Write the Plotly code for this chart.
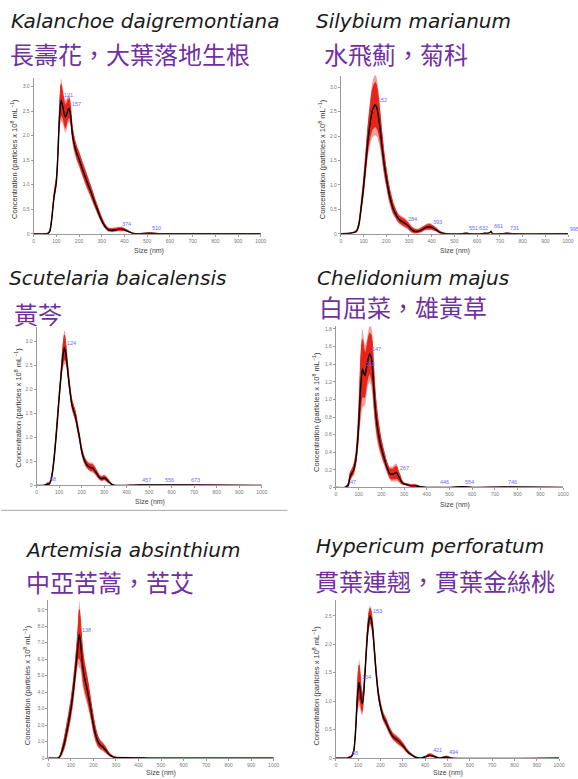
import numpy as np
import plotly.graph_objects as go

W, H = 578, 779

# ---------------- data ----------------
latin_names = ["Kalanchoe daigremontiana", "Silybium marianum", "Scutelaria baicalensis",
               "Chelidonium majus", "Artemisia absinthium", "Hypericum perforatum"]
chinese_names = ["長壽花，大葉落地生根", "水飛薊，菊科", "黃芩",
                 "白屈菜，雄黃草", "中亞苦蒿，苦艾", "貫葉連翹，貫葉金絲桃"]

x_tick_vals = [0, 100, 200, 300, 400, 500, 600, 700, 800, 900, 1000]
x_tick_text = ["0", "100", "200", "300", "400", "500", "600", "700", "800", "900", "1000"]

# Panel 1: Kalanchoe daigremontiana
x1 = [0, 50, 65, 72, 80, 90, 100, 105, 110, 115, 121, 128, 135, 140, 147, 152, 157, 163, 170, 180,
      190, 200, 210, 220, 230, 240, 250, 260, 270, 280, 290, 300, 310, 320, 330, 345, 360, 374, 390, 405,
      420, 435, 460, 510, 560, 1000]
y1 = [0, 0, 0.01, 0.06, 0.3, 0.75, 1.05, 1.4, 1.95, 2.45, 2.72, 2.6, 2.44, 2.38, 2.45, 2.53, 2.55, 2.4, 2.05, 1.8,
      1.64, 1.52, 1.38, 1.25, 1.12, 1.0, 0.88, 0.75, 0.62, 0.5, 0.38, 0.27, 0.18, 0.12, 0.08, 0.07, 0.08, 0.09, 0.09, 0.07,
      0.04, 0.01, 0.0, 0.01, 0, 0]
e1 = [0, 0, 0.01, 0.02, 0.05, 0.07, 0.09, 0.11, 0.13, 0.2, 0.32, 0.26, 0.24, 0.24, 0.22, 0.2, 0.2, 0.16, 0.13, 0.12,
      0.12, 0.12, 0.12, 0.12, 0.12, 0.11, 0.1, 0.09, 0.08, 0.07, 0.06, 0.05, 0.04, 0.03, 0.03, 0.03, 0.03, 0.03, 0.03, 0.02,
      0.01, 0.005, 0, 0.005, 0, 0]
pk1_x = [121, 157, 374, 510]
pk1_y = [2.72, 2.55, 0.09, 0.01]
pk1_t = ["121", "157", "374", "510"]

# Panel 2: Silybium marianum
x2 = [0, 40, 60, 70, 80, 90, 100, 110, 120, 130, 140, 152, 160, 170, 180, 190, 200, 210, 220, 230,
      240, 250, 260, 270, 284, 295, 310, 325, 340, 355, 370, 385, 393, 405, 420, 435, 450, 470, 530, 551,
      570, 620, 632, 645, 655, 661, 667, 700, 731, 760, 990, 1000]
y2 = [0, 0.01, 0.03, 0.06, 0.2, 0.55, 0.95, 1.45, 1.95, 2.3, 2.55, 2.64, 2.55, 2.25, 1.85, 1.45, 1.15, 0.88, 0.68, 0.52,
      0.42, 0.33, 0.28, 0.25, 0.21, 0.17, 0.09, 0.05, 0.05, 0.08, 0.12, 0.14, 0.14, 0.12, 0.08, 0.03, 0.01, 0, 0, 0.01,
      0, 0, 0.01, 0.01, 0.02, 0.05, 0.0, 0, 0.01, 0, 0, 0]
e2 = [0, 0, 0.01, 0.02, 0.05, 0.1, 0.15, 0.2, 0.26, 0.34, 0.42, 0.46, 0.42, 0.32, 0.24, 0.2, 0.16, 0.14, 0.12, 0.1,
      0.08, 0.07, 0.07, 0.07, 0.07, 0.06, 0.05, 0.04, 0.03, 0.04, 0.04, 0.05, 0.05, 0.04, 0.03, 0.02, 0.01, 0, 0, 0,
      0, 0, 0, 0, 0, 0.01, 0, 0, 0, 0, 0, 0]
pk2_x = [152, 284, 393, 551, 632, 661, 731, 995]
pk2_y = [2.64, 0.21, 0.14, 0.01, 0.01, 0.05, 0.01, 0.0]
pk2_t = ["152", "284", "393", "551", "632", "661", "731", "995"]

# Panel 3: Scutelaria baicalensis
x3 = [0, 30, 40, 48, 55, 62, 70, 80, 90, 100, 110, 117, 124, 130, 138, 146, 156, 165, 172, 180,
      190, 200, 210, 220, 230, 240, 250, 260, 270, 280, 290, 300, 310, 320, 330, 340, 350, 457, 556, 673,
      1000]
y3 = [0, 0, 0.01, 0.03, 0.03, 0.08, 0.25, 0.65, 1.2, 1.8, 2.35, 2.7, 2.87, 2.75, 2.4, 2.05, 1.7, 1.55, 1.45, 1.25,
      1.0, 0.72, 0.55, 0.45, 0.4, 0.37, 0.36, 0.3, 0.23, 0.16, 0.14, 0.16, 0.13, 0.08, 0.04, 0.01, 0, 0.01, 0.01, 0.01,
      0]
e3 = [0, 0, 0.01, 0.02, 0.02, 0.03, 0.05, 0.08, 0.1, 0.1, 0.12, 0.2, 0.26, 0.18, 0.12, 0.1, 0.09, 0.09, 0.09, 0.08,
      0.07, 0.07, 0.06, 0.06, 0.06, 0.07, 0.07, 0.06, 0.05, 0.04, 0.04, 0.04, 0.04, 0.03, 0.01, 0.005, 0, 0, 0, 0,
      0]
pk3_x = [48, 124, 457, 556, 673]
pk3_y = [0.03, 2.87, 0.01, 0.01, 0.01]
pk3_t = ["48", "124", "457", "556", "673"]

# Panel 4: Chelidonium majus
x4 = [0, 40, 47, 55, 62, 70, 78, 87, 95, 100, 105, 110, 117, 123, 128, 135, 142, 149, 155, 160,
      165, 171, 178, 186, 193, 200, 207, 214, 222, 229, 236, 243, 250, 258, 267, 275, 282, 290, 300, 315,
      330, 350, 370, 400, 446, 500, 554, 600, 746, 1000]
y4 = [0, 0, 0.01, 0.03, 0.12, 0.16, 0.2, 0.3, 0.5, 0.7, 0.95, 1.18, 1.35, 1.3, 1.27, 1.36, 1.46, 1.52, 1.48, 1.4,
      1.2, 0.97, 0.78, 0.63, 0.53, 0.45, 0.38, 0.32, 0.25, 0.2, 0.16, 0.15, 0.15, 0.16, 0.17, 0.13, 0.1, 0.06, 0.04, 0.03,
      0.02, 0.02, 0.01, 0, 0, 0, 0.01, 0, 0.005, 0]
e4 = [0, 0, 0.01, 0.02, 0.04, 0.04, 0.05, 0.06, 0.1, 0.15, 0.22, 0.3, 0.33, 0.28, 0.25, 0.22, 0.22, 0.23, 0.25, 0.25,
      0.22, 0.18, 0.15, 0.12, 0.1, 0.08, 0.07, 0.06, 0.05, 0.05, 0.05, 0.06, 0.06, 0.07, 0.07, 0.05, 0.04, 0.02, 0.01, 0.01,
      0.01, 0.01, 0, 0, 0, 0, 0, 0, 0, 0]
pk4_x = [47, 118, 147, 267, 446, 554, 746]
pk4_y = [0.01, 1.35, 1.52, 0.17, 0.0, 0.01, 0.005]
pk4_t = ["47", "118", "147", "267", "446", "554", "746"]

# Panel 5: Artemisia absinthium
x5 = [0, 40, 48, 55, 62, 70, 80, 90, 100, 110, 120, 128, 133, 137, 141, 146, 152, 160, 170, 180,
      190, 200, 210, 220, 230, 240, 250, 260, 270, 280, 290, 300, 350, 400, 440, 1000]
y5 = [0, 0, 0.05, 0.2, 0.5, 0.85, 1.5, 2.2, 3.0, 4.0, 5.3, 6.4, 7.1, 7.5, 7.2, 6.5, 5.6, 4.9, 4.3, 3.6,
      2.8, 2.0, 1.4, 1.0, 0.8, 0.7, 0.55, 0.38, 0.22, 0.12, 0.06, 0.03, 0.02, 0.01, 0, 0]
e5 = [0, 0, 0.03, 0.1, 0.2, 0.3, 0.4, 0.45, 0.5, 0.55, 0.6, 0.75, 1.05, 1.5, 1.3, 1.05, 0.9, 0.8, 0.7, 0.6,
      0.5, 0.45, 0.35, 0.28, 0.22, 0.2, 0.17, 0.12, 0.08, 0.05, 0.03, 0.02, 0.01, 0.005, 0, 0]
pk5_x = [138]
pk5_y = [7.5]
pk5_t = ["138"]

# Panel 6: Hypericum perforatum
x6 = [0, 50, 58, 70, 80, 88, 94, 99, 104, 109, 114, 119, 124, 130, 136, 142, 148, 153, 158, 165,
      172, 180, 190, 200, 212, 225, 240, 255, 270, 285, 300, 315, 330, 345, 360, 380, 400, 412, 421, 432,
      445, 465, 494, 520, 1000]
y6 = [0, 0, 0.01, 0.03, 0.12, 0.45, 0.9, 1.2, 1.33, 1.2, 1.02, 0.96, 1.1, 1.45, 1.85, 2.2, 2.42, 2.5, 2.45, 2.25,
      1.9, 1.5, 1.12, 0.9, 0.72, 0.62, 0.48, 0.38, 0.33, 0.28, 0.22, 0.14, 0.08, 0.04, 0.01, 0.0, 0.02, 0.04, 0.05, 0.04,
      0.02, 0.0, 0.02, 0, 0]
e6 = [0, 0, 0.005, 0.01, 0.03, 0.08, 0.15, 0.25, 0.3, 0.25, 0.18, 0.15, 0.12, 0.1, 0.1, 0.12, 0.13, 0.13, 0.12, 0.1,
      0.09, 0.08, 0.07, 0.06, 0.06, 0.06, 0.05, 0.05, 0.05, 0.05, 0.04, 0.03, 0.02, 0.01, 0.005, 0, 0.01, 0.02, 0.02, 0.02,
      0.01, 0, 0.01, 0, 0]
pk6_x = [58, 104, 153, 421, 494]
pk6_y = [0.01, 1.33, 2.5, 0.05, 0.02]
pk6_t = ["58", "104", "153", "421", "494"]

y_ticks_a = [0, 0.5, 1.0, 1.5, 2.0, 2.5, 3.0]
y_text_a = ["0", "0.5", "1.0", "1.5", "2.0", "2.5", "3.0"]
y_ticks_b = [0, 0.2, 0.4, 0.6, 0.8, 1.0, 1.2, 1.4, 1.6, 1.8]
y_text_b = ["0", "0.2", "0.4", "0.6", "0.8", "1.0", "1.2", "1.4", "1.6", "1.8"]
y_ticks_c = [0, 1, 2, 3, 4, 5, 6, 7, 8, 9]
y_text_c = ["0", "1.0", "2.0", "3.0", "4.0", "5.0", "6.0", "7.0", "8.0", "9.0"]
y_ticks_d = [0, 0.5, 1.0, 1.5, 2.0, 2.5]
y_text_d = ["0", "0.5", "1.0", "1.5", "2.0", "2.5"]

y_title = "Concentration (particles x 10<sup>8</sup> mL<sup>−1</sup>)"
x_title = "Size (nm)"

# ---------------- layout (pixel geometry) ----------------
def fx(p):
    return p / W

def fy(p):
    return 1 - p / H

panels = [
    dict(x=x1, y=y1, e=e1, px=pk1_x, py=pk1_y, pt=pk1_t, yt=y_ticks_a, ytt=y_text_a,
         box=(33, 263, 77, 234), ymax=3.18, lat=(8, 20), chi=(7, 53), ytl=(13, 159), xtl=(150, 251)),
    dict(x=x2, y=y2, e=e2, px=pk2_x, py=pk2_y, pt=pk2_t, yt=y_ticks_a, ytt=y_text_a,
         box=(344, 574, 75, 234), ymax=3.24, lat=(317, 20), chi=(325, 53), ytl=(325, 159), xtl=(460, 251)),
    dict(x=x3, y=y3, e=e3, px=pk3_x, py=pk3_y, pt=pk3_t, yt=y_ticks_a, ytt=y_text_a,
         box=(36, 264, 328, 487), ymax=3.29, lat=(6, 278), chi=(11, 314), ytl=(17, 409), xtl=(151, 504)),
    dict(x=x4, y=y4, e=e4, px=pk4_x, py=pk4_y, pt=pk4_t, yt=y_ticks_b, ytt=y_text_b,
         box=(339, 569, 327, 489), ymax=1.83, lat=(318, 278), chi=(320, 307), ytl=(319, 413), xtl=(460, 507)),
    dict(x=x5, y=y5, e=e5, px=pk5_x, py=pk5_y, pt=pk5_t, yt=y_ticks_c, ytt=y_text_c,
         box=(48, 276, 602, 761), ymax=9.6, lat=(22, 552), chi=(23, 583), ytl=(27, 688), xtl=(162, 776)),
    dict(x=x6, y=y6, e=e6, px=pk6_x, py=pk6_y, pt=pk6_t, yt=y_ticks_d, ytt=y_text_d,
         box=(339, 565, 602, 761), ymax=2.78, lat=(317, 548), chi=(316, 582), ytl=(319, 688), xtl=(452, 776)),
]

RED = "rgb(232,36,26)"
RED_SOFT = "rgba(232,36,26,0.45)"
fig = go.Figure()
layout = dict(width=W, height=H, autosize=False, margin=dict(l=0, r=0, t=0, b=0),
              paper_bgcolor="white", plot_bgcolor="white", showlegend=False)
annotations = []
axis_font = dict(size=5, color="#777", family="Liberation Sans")

for i, p in enumerate(panels):
    s = "" if i == 0 else str(i + 1)
    xs = np.array(p["x"], float)
    ys = np.array(p["y"], float)
    es = np.array(p["e"], float)
    assert len(xs) == len(ys) == len(es), (i, len(xs), len(ys), len(es))
    # soft halo (blurred edge of the error band)
    for lo, up, col, lw in [(np.clip(ys - es * 1.35, 0, None), ys + es * 1.35 + 0.004 * p["ymax"], RED_SOFT, 1.5),
                            (np.clip(ys - es, 0, None), ys + es, RED, 1.0)]:
        fig.add_trace(go.Scatter(x=xs, y=lo, mode="lines", xaxis="x" + s, yaxis="y" + s,
                                 line=dict(width=0, color=col, shape="spline", smoothing=0.6),
                                 hoverinfo="skip"))
        fig.add_trace(go.Scatter(x=xs, y=up, mode="lines", xaxis="x" + s, yaxis="y" + s,
                                 fill="tonexty", fillcolor=col,
                                 line=dict(width=lw if col == RED else 0, color=col, shape="spline", smoothing=0.6),
                                 hoverinfo="skip"))
    fig.add_trace(go.Scatter(x=xs, y=ys, mode="lines", xaxis="x" + s, yaxis="y" + s,
                             line=dict(width=1.4, color="black", shape="spline", smoothing=0.6)))
    x0, x1_, yt, yb = p["box"]
    px_per_unit = (yb - yt) / p["ymax"]
    layout["xaxis" + s] = dict(domain=[fx(x0), fx(x1_)], anchor="y" + s, range=[0, 1000],
                               tickvals=x_tick_vals, ticktext=x_tick_text, showgrid=False, zeroline=False,
                               showline=True, linecolor="#9a9a9a", linewidth=1, ticks="outside",
                               ticklen=2, tickcolor="#9a9a9a", tickfont=axis_font)
    layout["yaxis" + s] = dict(domain=[fy(yb), fy(yt)], anchor="x" + s, range=[0, p["ymax"]],
                               tickvals=p["yt"], ticktext=p["ytt"], showgrid=False, zeroline=False,
                               showline=True, linecolor="#9a9a9a", linewidth=1, ticks="outside",
                               ticklen=2, tickcolor="#9a9a9a", tickfont=axis_font)
    # peak labels; a label that would run into the next one is centred on its peak
    n = len(p["px"])
    for k in range(n):
        vx, vy, t = p["px"][k], p["py"][k], p["pt"][k]
        crowded = (k + 1 < n and (p["px"][k + 1] - vx) < 42
                   and abs(p["py"][k + 1] - vy) * px_per_unit < 7)
        annotations.append(dict(x=vx, y=vy, xref="x" + s, yref="y" + s, text=t, showarrow=False,
                                xanchor="center" if crowded else "left", yanchor="bottom",
                                xshift=-1 if crowded else 1,
                                font=dict(size=5.5, color="#6b6bff", family="Liberation Sans")))
    # titles
    annotations.append(dict(x=fx(p["lat"][0]), y=fy(p["lat"][1]), xref="paper", yref="paper",
                            text="<i>" + latin_names[i] + "</i>", showarrow=False,
                            xanchor="left", yanchor="middle",
                            font=dict(size=20, color="#1a1a1a", family="DejaVu Sans")))
    annotations.append(dict(x=fx(p["chi"][0]), y=fy(p["chi"][1]), xref="paper", yref="paper",
                            text=chinese_names[i], showarrow=False,
                            xanchor="left", yanchor="middle",
                            font=dict(size=24, color="#7030a0", family="Noto Sans CJK TC")))
    annotations.append(dict(x=fx(p["ytl"][0]), y=fy(p["ytl"][1]), xref="paper", yref="paper",
                            text=y_title, showarrow=False, textangle=-90,
                            xanchor="center", yanchor="middle",
                            font=dict(size=7.5, color="#333", family="Liberation Sans")))
    annotations.append(dict(x=fx(p["xtl"][0]), y=fy(p["xtl"][1]), xref="paper", yref="paper",
                            text=x_title, showarrow=False, xanchor="center", yanchor="middle",
                            font=dict(size=7, color="#444", family="Liberation Sans")))

layout["annotations"] = annotations
layout["shapes"] = [dict(type="line", xref="paper", yref="paper", x0=0, x1=fx(290), y0=fy(512), y1=fy(512),
                         line=dict(color="#aaaaaa", width=1))]
fig.update_layout(**layout)

fig.write_html("out.html", config={"displayModeBar": False},
               post_script="document.body.style.margin='0';document.body.style.overflow='hidden';")
